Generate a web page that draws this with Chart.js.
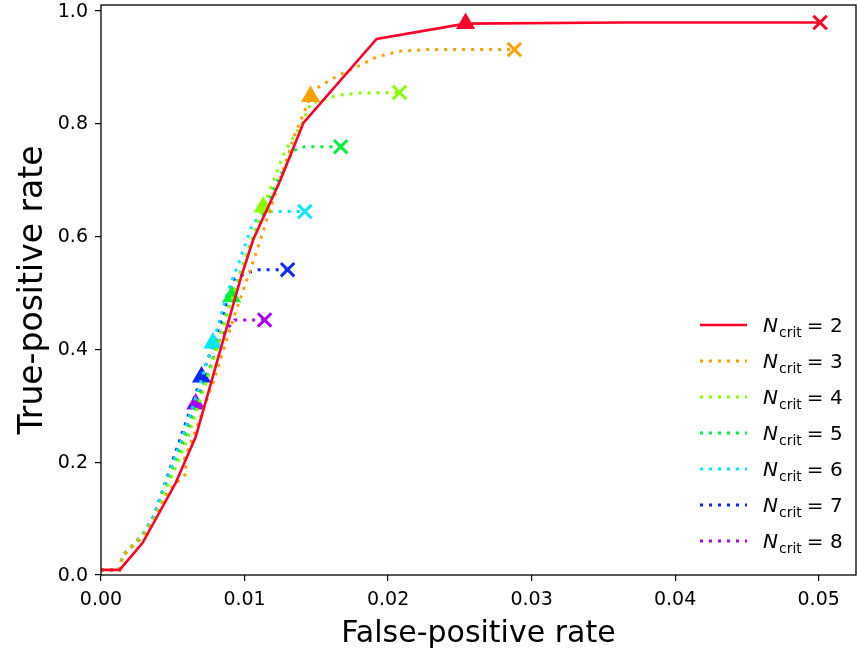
<!DOCTYPE html>
<html>
<head>
<meta charset="utf-8">
<script src="https://cdn.jsdelivr.net/npm/chart.js@4/dist/chart.umd.min.js"></script>
<style>
body{margin:0;background:#fff}
#wrap{width:857px;height:649px;position:relative}
</style>
</head>
<body>
<div id="wrap"><canvas id="chart"></canvas></div>
<script>
// ROC points per N_crit (false-positive rate, true-positive rate)
const labels=["2","3","4","5","6","7","8"];
const colors=["#ff0029","#ffa100","#88ff00","#00f03c","#00e8ff","#0828ff","#a800ff"];

const fpr2=[0,0.0013,0.0029,0.0052,0.0066,0.0097,0.0106,0.0125,0.0141,0.0192,0.0254,0.0362,0.0501];
const tpr2=[0.009,0.009,0.057,0.163,0.245,0.523,0.594,0.700,0.801,0.950,0.977,0.979,0.979];

const fpr3=[0,0.0013,0.0015,0.0022,0.0030,0.0038,0.0047,0.0060,0.0058,0.0065,0.0078,0.0093,0.0108,0.0122,0.0135,0.0146,0.0150,0.0165,0.0178,0.0192,0.0208,0.0227,0.0288];
const tpr3=[0.009,0.009,0.033,0.050,0.070,0.100,0.150,0.181,0.205,0.250,0.340,0.460,0.570,0.680,0.780,0.848,0.862,0.885,0.900,0.918,0.928,0.931,0.931];

const fpr4=[0,0.0013,0.0015,0.0022,0.0030,0.0038,0.0046,0.0060,0.0077,0.0095,0.0113,0.0128,0.0140,0.0146,0.0165,0.0181,0.0208];
const tpr4=[0.009,0.009,0.035,0.052,0.073,0.103,0.155,0.240,0.370,0.520,0.652,0.750,0.800,0.835,0.850,0.854,0.855];

const fpr5=[0,0.0013,0.0015,0.0022,0.0030,0.0038,0.0045,0.0058,0.0075,0.0091,0.0106,0.0121,0.0134,0.0142,0.0167];
const tpr5=[0.009,0.009,0.035,0.052,0.073,0.103,0.150,0.240,0.360,0.493,0.600,0.688,0.752,0.759,0.759];

const fpr6=[0,0.0013,0.0015,0.0022,0.0030,0.0037,0.0043,0.0056,0.0068,0.0078,0.0088,0.0097,0.0106,0.0118,0.0142];
const tpr6=[0.009,0.009,0.035,0.052,0.075,0.105,0.150,0.240,0.330,0.411,0.500,0.560,0.625,0.644,0.644];

const fpr7=[0,0.0013,0.0015,0.0022,0.0030,0.0037,0.0043,0.0055,0.0070,0.0077,0.0083,0.0092,0.0101,0.0110,0.0130];
const tpr7=[0.009,0.009,0.035,0.052,0.075,0.105,0.150,0.240,0.351,0.400,0.445,0.523,0.535,0.541,0.541];

const fpr8=[0,0.0013,0.0015,0.0022,0.0030,0.0037,0.0043,0.0053,0.0066,0.0075,0.0083,0.0093,0.0114];
const tpr8=[0.009,0.009,0.035,0.052,0.075,0.105,0.150,0.220,0.303,0.360,0.420,0.452,0.452];

const fprs=[fpr2,fpr3,fpr4,fpr5,fpr6,fpr7,fpr8];
const tprs=[tpr2,tpr3,tpr4,tpr5,tpr6,tpr7,tpr8];
// index of the triangle marker in each series (the cross is the last point)
const triAt=[10,15,10,9,9,8,8];

const xTicks=[0,0.01,0.02,0.03,0.04,0.05];
const xTickLabels=["0.00","0.01","0.02","0.03","0.04","0.05"];
const yTicks=[0,0.2,0.4,0.6,0.8,1.0];
const yTickLabels=["0.0","0.2","0.4","0.6","0.8","1.0"];

const FONT='"DejaVu Sans", sans-serif';

const datasets=fprs.map((xs,k)=>{
  const last=xs.length-1;
  return {
    label:labels[k],
    data:xs.map((x,i)=>({x:x,y:tprs[k][i]})),
    showLine:true,
    borderColor:colors[k],
    backgroundColor:colors[k],
    borderWidth:k===0?2.6:3,
    borderDash:k===0?[]:[3,6],
    borderCapStyle:"butt",
    pointStyle:c=>c.dataIndex===triAt[k]?"triangle":(c.dataIndex===last?"crossRot":"circle"),
    pointRadius:c=>c.dataIndex===triAt[k]?8:(c.dataIndex===last?9.5:0),
    pointBorderWidth:3,
    pointBackgroundColor:colors[k],
    pointBorderColor:colors[k],
    tension:0
  };
});

// frame, tick labels and the N_crit legend
const frameAndLegend={
  id:"frameAndLegend",
  afterDraw(chart){
    const c=chart.ctx,a=chart.chartArea;
    const sx=chart.scales.x,sy=chart.scales.y;
    c.save();
    c.strokeStyle="#000";c.lineWidth=1.3;
    c.strokeRect(a.left,a.top,a.right-a.left,a.bottom-a.top);

    c.fillStyle="#000";c.font="19px "+FONT;
    c.textAlign="center";c.textBaseline="middle";
    xTicks.forEach((v,i)=>c.fillText(xTickLabels[i],sx.getPixelForValue(v),a.bottom+25));
    c.textAlign="right";
    yTicks.forEach((v,i)=>c.fillText(yTickLabels[i],a.left-13,sy.getPixelForValue(v)+1));

    const x0=a.right-156,y0=325,step=36;
    chart.data.datasets.forEach((ds,i)=>{
      const y=y0+i*step;
      c.strokeStyle=ds.borderColor;c.lineWidth=ds.borderWidth;
      c.setLineDash(ds.borderDash);c.lineCap="butt";
      c.beginPath();c.moveTo(x0,y);c.lineTo(x0+47,y);c.stroke();
      c.setLineDash([]);
      c.fillStyle="#000";c.textBaseline="alphabetic";c.textAlign="left";
      let tx=x0+63;
      c.font="italic 20px "+FONT;c.fillText("N",tx,y+7);
      tx+=c.measureText("N").width+1;
      c.font="14px "+FONT;c.fillText("crit",tx,y+12);
      tx+=c.measureText("crit").width+5;
      c.font="20px "+FONT;c.fillText("= "+ds.label,tx,y+7);
    });
    c.restore();
  }
};

new Chart(document.getElementById("chart"),{
  type:"scatter",
  data:{datasets:datasets},
  options:{
    responsive:true,
    maintainAspectRatio:false,
    animation:false,
    events:[],
    layout:{padding:{top:5,right:1,left:0,bottom:0},autoPadding:false},
    plugins:{legend:{display:false},tooltip:{enabled:false}},
    scales:{
      x:{
        type:"linear",min:0,max:0.0526,
        afterFit:s=>{s.height=74;},
        afterBuildTicks:s=>{s.ticks=xTicks.map(v=>({value:v}));},
        ticks:{display:false},
        grid:{display:true,drawOnChartArea:false,drawTicks:true,tickLength:6,color:"#000",lineWidth:1.2},
        border:{display:false},
        title:{display:true,text:"False-positive rate",color:"#000",font:{family:FONT,size:30},padding:{top:0,bottom:-3}}
      },
      y:{
        type:"linear",min:0,max:1.01,
        afterFit:s=>{s.width=101;},
        afterBuildTicks:s=>{s.ticks=yTicks.map(v=>({value:v}));},
        ticks:{display:false},
        grid:{display:true,drawOnChartArea:false,drawTicks:true,tickLength:6,color:"#000",lineWidth:1.2},
        border:{display:false},
        title:{display:true,text:"True-positive rate",color:"#000",font:{family:FONT,size:33},padding:{top:14,bottom:0}}
      }
    }
  },
  plugins:[frameAndLegend]
});
</script>
</body>
</html>
